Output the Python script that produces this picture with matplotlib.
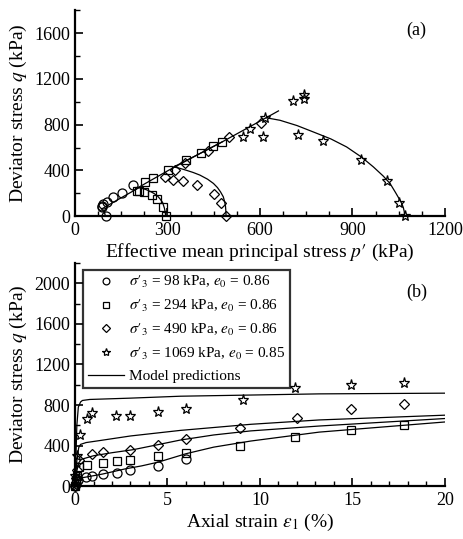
import numpy as np
import matplotlib
matplotlib.use("Agg")
import matplotlib.pyplot as plt
from matplotlib.ticker import MultipleLocator
from matplotlib.lines import Line2D

plt.rcParams.update({'font.size': 13, 'font.family': 'Liberation Serif',
                     'mathtext.fontset': 'stix'})

# ---- panel (a): stress paths p'-q (kPa) ----
p_98 = [100, 86, 88, 92, 103, 122, 151, 189]
q_98 = [0, 76, 90, 105, 126, 163, 204, 272]
p_294 = [294, 284, 265, 249, 225, 208, 200, 227, 252, 303, 360, 410, 449, 478]
q_294 = [0, 76, 148, 183, 212, 218, 222, 300, 331, 407, 489, 548, 609, 650]
p_490 = [490, 473, 451, 397, 350, 317, 292, 324, 357, 432, 500, 602]
q_490 = [0, 116, 192, 270, 308, 314, 343, 407, 465, 570, 692, 818]
p_1069 = [1069, 1052, 1013, 927, 803, 724, 611, 546, 568, 616, 708, 743, 743]
q_1069 = [0, 116, 305, 494, 657, 713, 695, 689, 762, 855, 1007, 1025, 1060]

# model stress paths
mp_98 = [98, 97, 94, 90, 86, 130, 205]
mq_98 = [0, 20, 38, 52, 62, 130, 245]
mp_294 = [294, 293, 290, 284, 276, 268, 257, 245, 233, 222, 205, 303, 400, 478]
mq_294 = [0, 30, 70, 120, 150, 175, 197, 215, 229, 240, 250, 400, 540, 650]
mp_490 = [490, 489.5, 488, 485, 481, 472, 462, 449, 430, 405, 383, 360, 340, 320, 400, 478, 620]
mq_490 = [0, 40, 90, 130, 169, 212, 250, 286, 323, 359, 382, 402, 418, 430, 540, 650, 860]
mp_1069 = [1069, 1068, 1065, 1060, 1054, 1040, 1022, 1000, 968, 930, 881, 830,
           773, 720, 665, 620, 640, 660]
mq_1069 = [0, 40, 75, 110, 140, 205, 285, 350, 430, 515, 605, 675,
           736, 792, 838, 860, 890, 920]

# ---- panel (b): q vs axial strain ----
e_98 = [0, 0.05, 0.15, 0.6, 0.9, 1.5, 2.25, 3.0, 4.5, 6.0]
s_98 = [0, 30, 60, 93, 100, 117, 133, 160, 203, 267]
e_294 = [0, 0.05, 0.1, 0.2, 0.63, 1.5, 2.25, 3.0, 4.5, 6.0, 8.9, 11.9, 14.9, 17.8]
s_294 = [0, 50, 100, 193, 210, 227, 250, 260, 293, 327, 400, 487, 550, 603]
e_490 = [0, 0.05, 0.1, 0.23, 0.9, 1.5, 3.0, 4.5, 6.0, 8.9, 12.0, 14.9, 17.8]
s_490 = [0, 80, 160, 260, 320, 333, 360, 410, 467, 577, 677, 757, 813]
e_1069 = [0, 0.02, 0.1, 0.27, 0.67, 0.9, 2.2, 3.0, 4.5, 6.0, 9.06, 11.9, 14.9, 17.8]
s_1069 = [0, 100, 300, 500, 667, 717, 687, 687, 733, 760, 850, 970, 1000, 1020]

me_1069 = [0, 0.05, 0.1, 0.18, 0.3, 0.4, 0.8, 3, 5.7, 10, 13.2, 20]
ms_1069 = [0, 300, 600, 780, 830, 845, 855, 868, 887, 900, 910, 917]
me_a = [0, 0.1, 0.2, 0.3, 0.6, 1.35, 3, 5.7, 9.5, 13.2, 20]
ms_a = [0, 250, 380, 412, 430, 450, 495, 550, 610, 653, 700]
me_b = [0, 0.1, 0.2, 0.35, 1, 2, 3.15, 4.5, 5.7, 7.5, 9.5, 13.2, 20]
ms_b = [0, 150, 230, 265, 300, 330, 360, 410, 455, 505, 545, 593, 667]
me_c = [0, 0.1, 0.27, 0.7, 1.5, 2.7, 3.6, 4.5, 6, 7.5, 9.5, 13.2, 20]
ms_c = [0, 50, 80, 93, 120, 170, 200, 237, 320, 385, 445, 533, 633]

labels = [r"$\sigma{\prime}_3$ = 98 kPa, $e_0$ = 0.86",
          r"$\sigma{\prime}_3$ = 294 kPa, $e_0$ = 0.86",
          r"$\sigma{\prime}_3$ = 490 kPa, $e_0$ = 0.86",
          r"$\sigma{\prime}_3$ = 1069 kPa, $e_0$ = 0.85"]

mk = dict(ls='none', mfc='none', mec='k', mew=0.9)
sty = [dict(marker='o', ms=6.5), dict(marker='s', ms=5.5),
       dict(marker='D', ms=5.5), dict(marker='*', ms=8)]

fig = plt.figure(figsize=(4.63, 5.39), dpi=100)
ax1 = fig.add_axes([0.162, 0.599, 0.799, 0.382])
ax2 = fig.add_axes([0.162, 0.098, 0.799, 0.414])


def style(ax):
    for s in ['top', 'right']:
        ax.spines[s].set_visible(False)
    for s in ['left', 'bottom']:
        ax.spines[s].set_linewidth(1.6)
    ax.tick_params(which='major', direction='in', length=6, width=1.2, labelsize=13)
    ax.tick_params(which='minor', direction='in', length=3.5, width=1.0)
    ax.tick_params(axis='x', pad=4)


# panel (a)
for pl, ql in [(mp_98, mq_98), (mp_294, mq_294), (mp_490, mq_490), (mp_1069, mq_1069)]:
    ax1.plot(pl, ql, 'k-', lw=0.9)
for (pl, ql), st in zip([(p_98, q_98), (p_294, q_294), (p_490, q_490), (p_1069, q_1069)], sty):
    ax1.plot(pl, ql, clip_on=False, zorder=3, **mk, **st)
ax1.set_xlim(0, 1200)
ax1.set_ylim(0, 1800)
ax1.xaxis.set_major_locator(MultipleLocator(300))
ax1.xaxis.set_minor_locator(MultipleLocator(75))
ax1.yaxis.set_major_locator(MultipleLocator(400))
ax1.yaxis.set_minor_locator(MultipleLocator(200))
style(ax1)
ax1.set_xlabel(r"Effective mean principal stress $p\prime$ (kPa)", fontsize=14, labelpad=2)
ax1.set_ylabel("Deviator stress $q$ (kPa)", fontsize=14, labelpad=4)
ax1.text(0.895, 0.88, "(a)", transform=ax1.transAxes, fontsize=13)

# panel (b)
for el, sl in [(me_1069, ms_1069), (me_a, ms_a), (me_b, ms_b), (me_c, ms_c)]:
    ax2.plot(el, sl, 'k-', lw=0.9)
for (el, sl), st in zip([(e_98, s_98), (e_294, s_294), (e_490, s_490), (e_1069, s_1069)], sty):
    ax2.plot(el, sl, clip_on=False, zorder=3, **mk, **st)
ax2.set_xlim(0, 20)
ax2.set_ylim(0, 2200)
ax2.xaxis.set_major_locator(MultipleLocator(5))
ax2.xaxis.set_minor_locator(MultipleLocator(1))
ax2.yaxis.set_major_locator(MultipleLocator(400))
ax2.yaxis.set_minor_locator(MultipleLocator(200))
style(ax2)
ax2.set_xlabel(r"Axial strain $\epsilon_1$ (%)", fontsize=14, labelpad=2)
ax2.set_ylabel("Deviator stress $q$ (kPa)", fontsize=14, labelpad=4)
ax2.text(0.895, 0.85, "(b)", transform=ax2.transAxes, fontsize=13)

handles = [Line2D([], [], **mk, **dict(st, ms=st['ms'] * 0.75)) for st in sty]
handles.append(Line2D([], [], color='k', lw=0.9))
leg = ax2.legend(handles, labels + ["Model predictions"], loc='upper left',
                 bbox_to_anchor=(0.022, 0.97), fontsize=11, frameon=True,
                 fancybox=False, edgecolor='k', handlelength=2.4,
                 handletextpad=0.3, labelspacing=0.5, borderpad=0.3,
                 borderaxespad=0.0)
leg.get_frame().set_linewidth(1.6)

fig.savefig("out.png", dpi=100)
